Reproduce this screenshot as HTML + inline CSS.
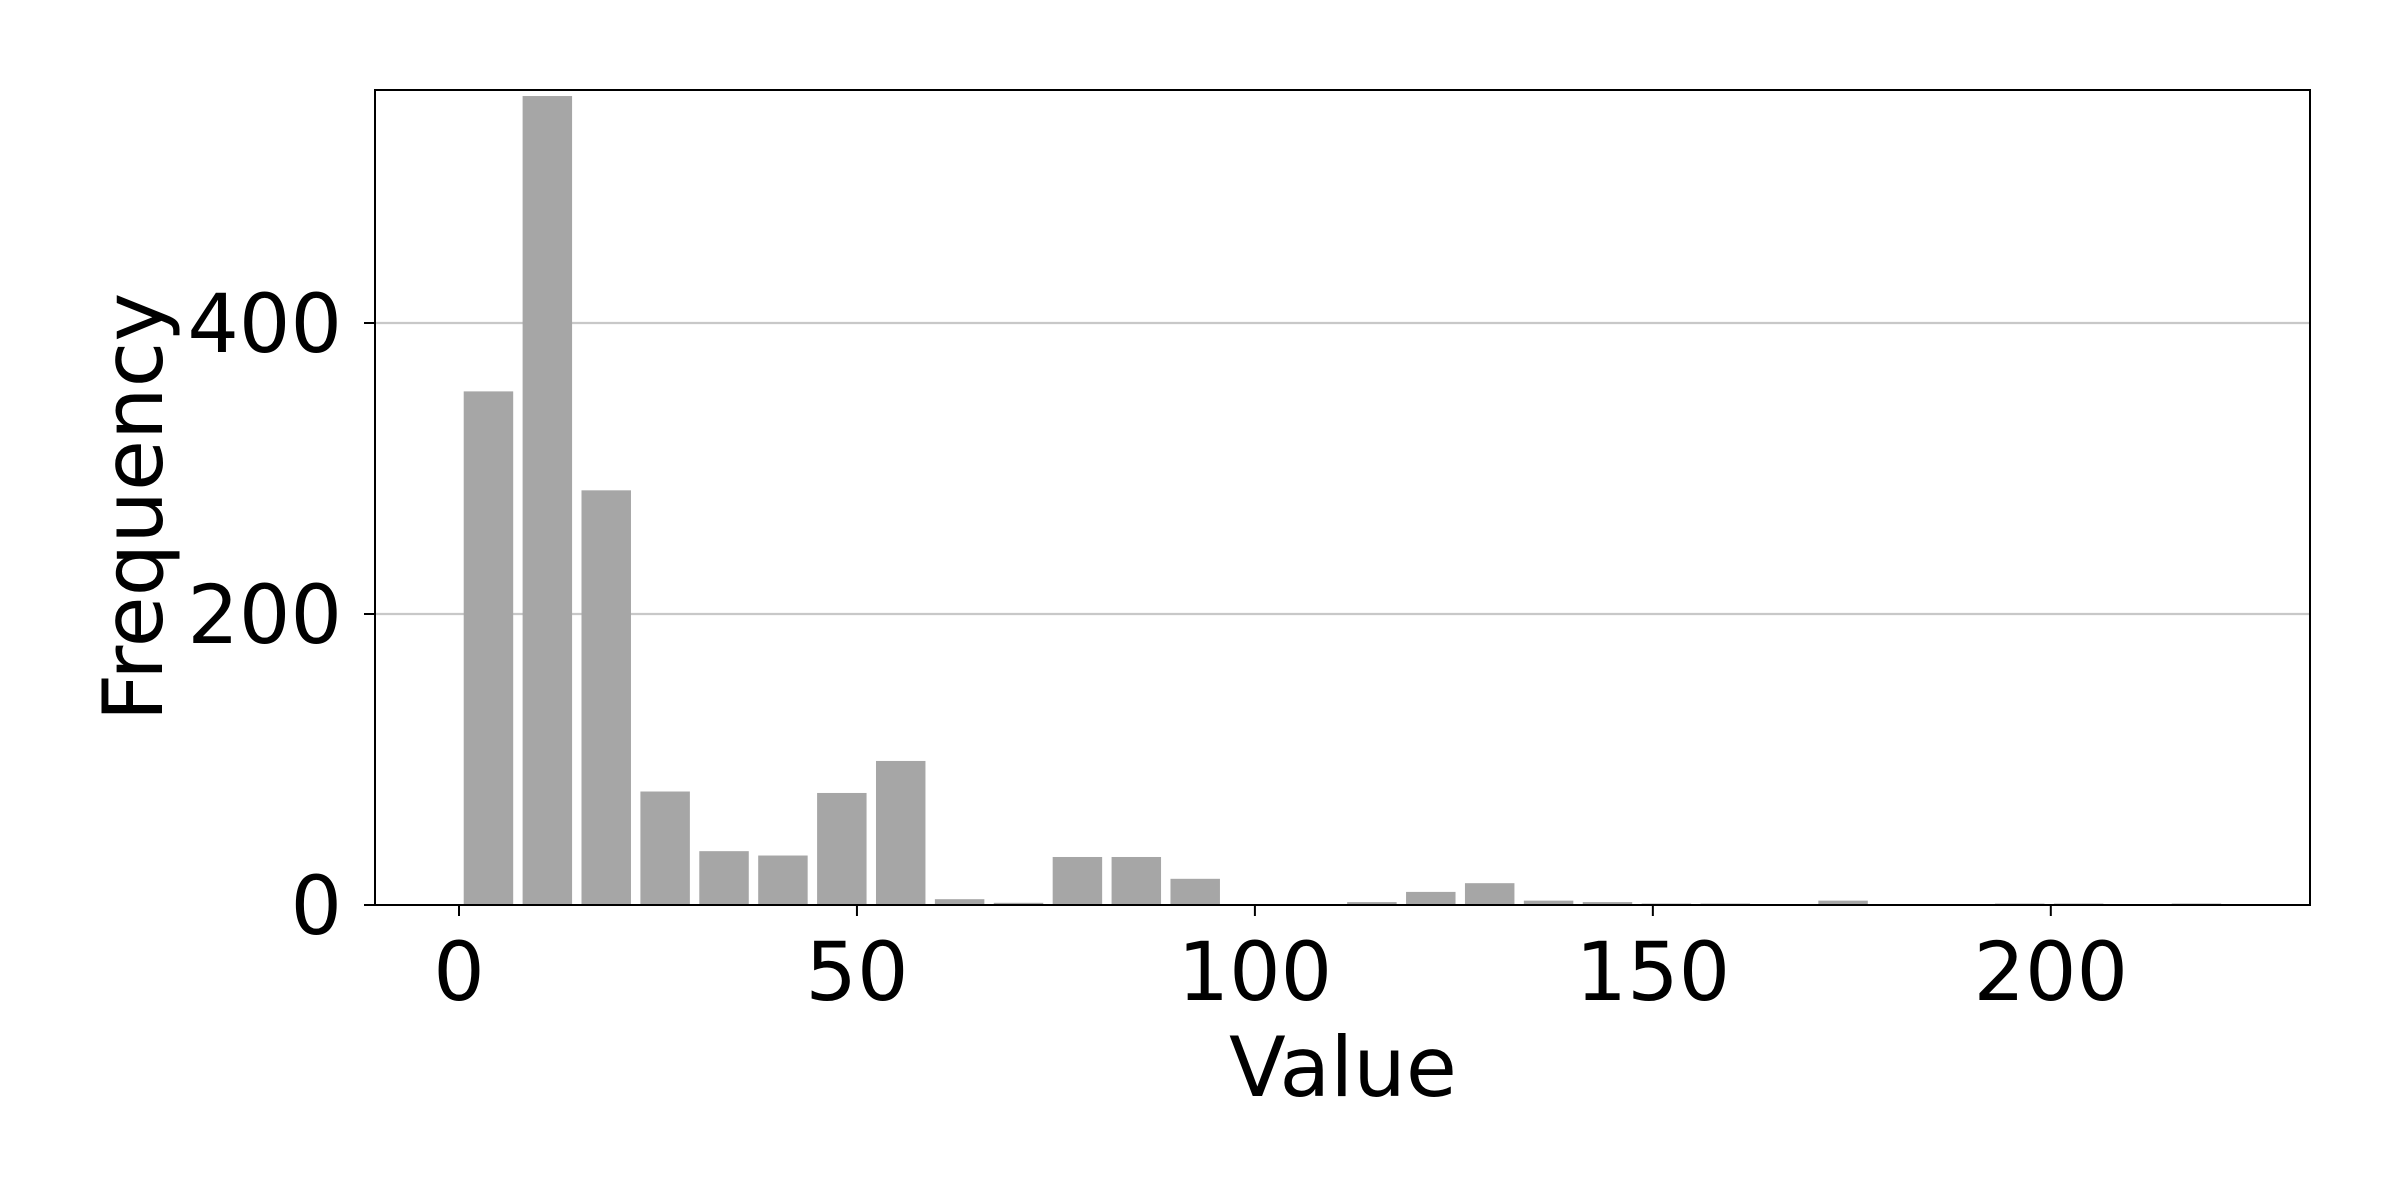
<!DOCTYPE html>
<html><head><meta charset="utf-8"><style>
html,body{margin:0;padding:0;background:#fff;}
svg{display:block;font-family:"DejaVu Sans","Liberation Sans",sans-serif;}
</style></head><body>
<svg id="chart" width="2400" height="1200" viewBox="0 0 2400 1200" xmlns="http://www.w3.org/2000/svg">
<rect width="2400" height="1200" fill="#fff"/>
<g id="grid"></g>
<g id="bars"></g>
<g id="axes"></g>
<text x="1343" y="1096" font-size="83" text-anchor="middle">Value</text>
<text transform="translate(162,507) rotate(-90)" font-size="83" text-anchor="middle">Frequency</text>
</svg>
<script>
const binStarts = [0.0,7.4,14.8,22.2,29.6,37.0,44.4,51.8,59.2,66.6,74.0,81.4,88.8,96.2,103.6,111.0,118.4,125.8,133.2,140.6,148.0,155.4,162.8,170.2,177.6,185.0,192.4,199.8,207.2,214.6];
const counts = [353,556,285,78,37,34,77,99,4,1.5,33,33,18,0,0,2,9,15,3,2,1,1,0,3,0,0,1,1,0,1];
const xTicks = [0,50,100,150,200];
const yTicks = [0,200,400];
const binWidth = 7.4;
const barFrac = 0.84;

const NS = "http://www.w3.org/2000/svg";
const L = 375, R = 2310, T = 90, B = 905;
const xs = v => 459 + v * 7.959;
const ys = v => 905 - v * 1.455;
function mk(tag, attrs, parent) {
  const e = document.createElementNS(NS, tag);
  for (const k in attrs) e.setAttribute(k, attrs[k]);
  parent.appendChild(e);
  return e;
}
const grid = document.getElementById('grid');
const bars = document.getElementById('bars');
const axes = document.getElementById('axes');

yTicks.forEach(t => {
  if (t > 0) {
    const g = mk('line', {x1: L, x2: R, y1: ys(t), y2: ys(t), stroke: '#c8c8c8', 'stroke-width': 2.2}, grid);
    
    
  }
});

counts.forEach((c, i) => {
  const centre = binStarts[i] + binWidth / 2;
  const w = binWidth * barFrac;
  const x0 = xs(centre - w / 2), x1 = xs(centre + w / 2);
  const r = mk('rect', {x: x0, y: ys(c), width: x1 - x0, height: ys(0) - ys(c), fill: '#a6a6a6'}, bars);
  
  
});

const frame = mk('rect', {x: L, y: T, width: R - L, height: B - T, fill: 'none', stroke: '#000', 'stroke-width': 2}, axes);



xTicks.forEach(t => {
  mk('line', {x1: xs(t), x2: xs(t), y1: B, y2: B + 11, stroke: '#000', 'stroke-width': 2}, axes);
  const lb = mk('text', {x: xs(t), y: 1000, 'font-size': 81, 'text-anchor': 'middle'}, axes);
  lb.textContent = t;
  
  
});
yTicks.forEach(t => {
  mk('line', {x1: L - 11, x2: L, y1: ys(t), y2: ys(t), stroke: '#000', 'stroke-width': 2}, axes);
  const lb = mk('text', {x: 342, y: ys(t) + 29, 'font-size': 81, 'text-anchor': 'end'}, axes);
  lb.textContent = t;
  
  
});
</script>
</body></html>
